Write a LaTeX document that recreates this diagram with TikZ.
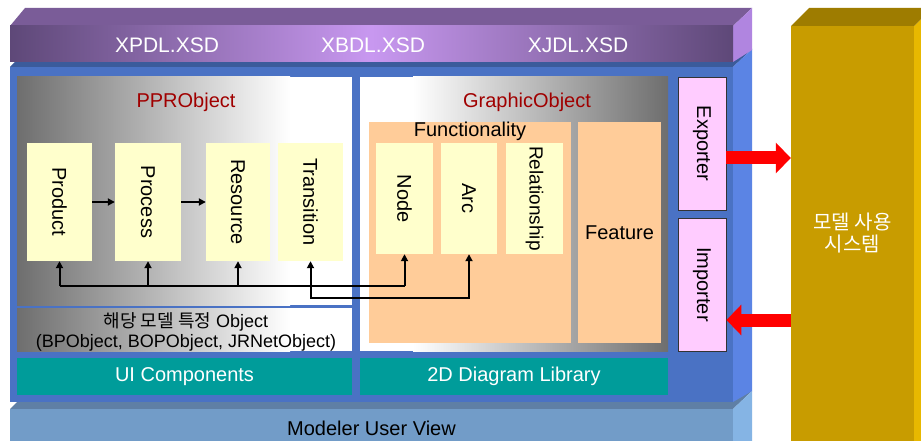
\documentclass[tikz,border=0pt]{standalone}
\usepackage{fontspec}
\setmainfont{Liberation Sans}
\newfontfamily\kfont{Noto Sans CJK KR}
\usetikzlibrary{arrows.meta}

\definecolor{purpTop}{HTML}{7A5C98}
\definecolor{purpDark}{HTML}{5E4878}
\definecolor{purpLight}{HTML}{C898F0}
\definecolor{purpSide}{HTML}{B085E0}
\definecolor{blueFront}{HTML}{4A72C4}
\definecolor{blueTop}{HTML}{3B5B9B}
\definecolor{blueSide}{HTML}{5B84E4}
\definecolor{viewFront}{HTML}{729CC8}
\definecolor{viewTop}{HTML}{5F7FA5}
\definecolor{viewSide}{HTML}{85B4E4}
\definecolor{goldFront}{HTML}{C89C00}
\definecolor{goldTop}{HTML}{9E7C00}
\definecolor{goldSide}{HTML}{E8B800}
\definecolor{barteal}{HTML}{009C9A}
\definecolor{boxyellow}{HTML}{FFFFCC}
\definecolor{boxorange}{HTML}{FFCC99}
\definecolor{boxpink}{HTML}{FFCCFF}
\definecolor{panelgray}{HTML}{6E6E6E}
\definecolor{titlered}{HTML}{A00000}
\definecolor{arrowred}{HTML}{FF0000}

\begin{document}
\begin{tikzpicture}[x=1pt, y=-1pt,
  txt/.style={font=\fontsize{20}{22}\selectfont, inner sep=0pt},
  ybox/.style={txt, fill=boxyellow},
  obox/.style={txt, fill=boxorange},
  pbox/.style={txt, fill=boxpink, draw=black!80, line width=0.8pt},
  tbar/.style={txt, fill=barteal, text=white},
  ttl/.style={txt, text=titlered},
  tip/.style={line width=2pt, -{Triangle[length=7pt,width=7pt]}},
  fat/.style={color=arrowred, line width=13pt, -{Triangle[length=15pt,width=30pt]}}]
  \clip (0,0) rectangle (921,441);
  \fill[white] (0,0) rectangle (921,441);

  % bottom slab
  \fill[viewTop] (10,409) -- (28,391) -- (752,391) -- (733,409) -- cycle;
  \fill[viewSide] (733,409) -- (752,391) -- (752,441) -- (733,441) -- cycle;
  \fill[viewFront] (10,409) rectangle (733,441);
  \node[txt] (view) at (371.5,428) {Modeler User View};

  % blue slab
  \fill[blueTop] (10,67) -- (28,49) -- (752,49) -- (733,67) -- cycle;
  \fill[blueSide] (733,67) -- (752,49) -- (752,391) -- (733,402) -- cycle;
  \fill[blueFront] (10,67) rectangle (733,402);

  % purple slab
  \fill[purpTop] (10,26) -- (25,8) -- (752,8) -- (733,26) -- cycle;
  \fill[purpSide] (733,26) -- (752,8) -- (752,50) -- (733,62) -- cycle;
  \shade[left color=purpDark, right color=purpDark, middle color=purpLight] (10,26) rectangle (733,62);
  \node[txt, text=white, font=\fontsize{21}{23}\selectfont] (xpdl) at (167,45) {XPDL.XSD};
  \node[txt, text=white, font=\fontsize{21}{23}\selectfont] (xbdl) at (373,45) {XBDL.XSD};
  \node[txt, text=white, font=\fontsize{21}{23}\selectfont] (xjdl) at (578,45) {XJDL.XSD};

  % gold slab
  \fill[goldSide] (914,26) -- (932,8) -- (932,441) -- (914,441) -- cycle;
  \fill[goldTop] (791,26) -- (809,8) -- (932,8) -- (914,26) -- cycle;
  \node[txt, fill=goldFront, text=white, align=center, minimum width=123, minimum height=415] (sys) at (852.5,233.5) {{\kfont 모델 사용}\\{\kfont 시스템}};

  % panels
  \shade[left color=panelgray, right color=white] (17,77) rectangle (290,305);
  \fill[white] (290,77) rectangle (352,305);
  \shade[left color=panelgray, right color=white] (17,308) rectangle (290,351);
  \fill[white] (290,308) rectangle (352,351);
  \fill[white] (360,77) rectangle (413,351);
  \shade[left color=white, right color=panelgray] (413,77) rectangle (668,351);

  \node[ttl] (ppr) at (186,102) {PPRObject};
  \node[ttl] (gfx) at (527,102) {GraphicObject};
  \node[txt, font=\fontsize{18}{20}\selectfont, align=center] (spec) at (186,332)
    {{\kfont 해당 모델 특정} Object\\(BPObject, BOPObject, JRNetObject)};

  \node[ybox, minimum width=65, minimum height=118] (prod) at (59.5,202) {\rotatebox{-90}{Product}};
  \node[ybox, minimum width=66, minimum height=118] (proc) at (148,202) {\rotatebox{-90}{Process}};
  \node[ybox, minimum width=64, minimum height=118] (res) at (238,202) {\rotatebox{-90}{Resource}};
  \node[ybox, minimum width=65, minimum height=118] (trans) at (310.5,202) {\rotatebox{-90}{Transition}};

  \node[obox, minimum width=202, minimum height=221] (func) at (470,232.5) {};
  \node[txt] (funclbl) at (470,131) {Functionality};
  \node[obox, minimum width=83, minimum height=221] (feat) at (619.5,232.5) {Feature};
  \node[ybox, minimum width=57, minimum height=111] (node) at (404.5,198.5) {\rotatebox{-90}{Node}};
  \node[ybox, minimum width=56, minimum height=111] (arc) at (469,198.5) {\rotatebox{-90}{Arc}};
  \node[ybox, minimum width=57, minimum height=111, font=\fontsize{19}{21}\selectfont] (rel) at (534.5,198.5) {\rotatebox{-90}{Relationship}};

  \node[pbox, minimum width=48, minimum height=133] (exp) at (702,143.5) {\rotatebox{-90}{Exporter}};
  \node[pbox, minimum width=48, minimum height=133] (imp) at (702,284.5) {\rotatebox{-90}{Importer}};

  \node[tbar, minimum width=335, minimum height=37] (ui) at (184.5,376.5) {UI Components};
  \node[tbar, minimum width=308, minimum height=37] (lib) at (514,376.5) {2D Diagram Library};

  % links
  \draw[tip] (prod) -- (proc);
  \draw[tip] (proc) -- (res);
  \coordinate (busA) at (0,286);
  \coordinate (busB) at (0,298);
  \draw[line width=2pt] (prod.south |- busA) -- (node.south |- busA);
  \foreach \n in {prod,proc,res,node}
    \draw[tip] (\n.south |- busA) -- (\n.south);
  \draw[tip, {Triangle[length=7pt,width=7pt]}-{Triangle[length=7pt,width=7pt]}]
    (trans.south) -- (trans.south |- busB) -- (arc.south |- busB) -- (arc.south);

  % exchange with the outside system
  \coordinate (outY) at (0,158);
  \coordinate (inY) at (0,320);
  \draw[fat] (exp.east |- outY) -- (sys.west |- outY);
  \draw[fat] (sys.west |- inY) -- (imp.east |- inY);
\end{tikzpicture}
\end{document}
